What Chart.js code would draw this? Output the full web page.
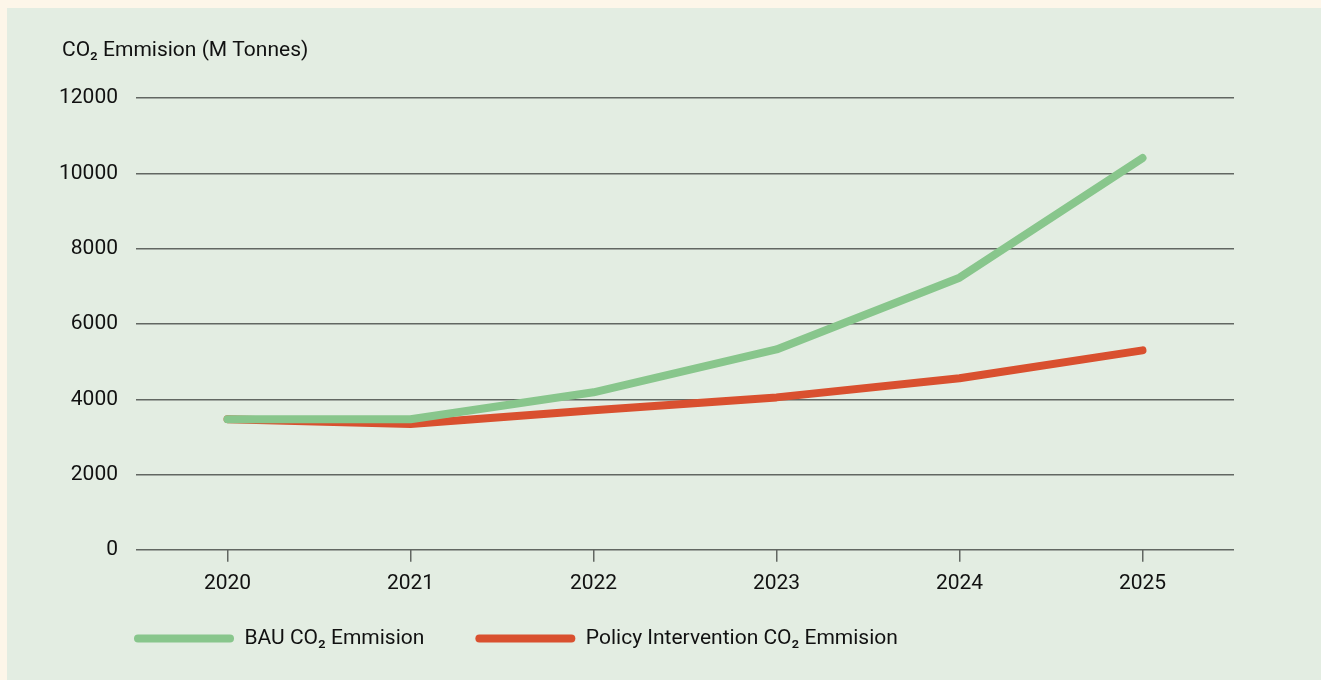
<!DOCTYPE html>
<html>
<head>
<meta charset="utf-8">
<script src="https://cdn.jsdelivr.net/npm/chart.js@4"></script>
<style>
  html, body { margin: 0; padding: 0; background: #fdf6e9; }
  #panel {
    position: absolute; left: 7px; top: 8px; width: 1314px; height: 672px;
    background: #e3ede2;
  }
</style>
</head>
<body>
<div id="panel"><canvas id="chart"></canvas></div>
<script>
// Valores
const years = ["2020", "2021", "2022", "2023", "2024", "2025"];
const bauValues = [3470, 3470, 4185, 5325, 7230, 10410];
const policyValues = [3470, 3340, 3710, 4050, 4560, 5300];
const seriesNames = ["BAU CO₂ Emmision", "Policy Intervention CO₂ Emmision"];
const yTitle = "CO₂ Emmision (M Tonnes)";

const green = "#88c68c";
const red = "#d9502f";
const gridColor = "#626762";
const textColor = "#111";
const font = { family: "Roboto, sans-serif", size: 21 };

// empurra título e legenda para a posição do original
const boxShift = {
  id: "boxShift",
  afterLayout(chart) {
    const t = chart.titleBlock;
    t.left += 21;
    t.right += 21;
    const lg = chart.legend;
    lg.left += 42;
    lg.right += 42;
    lg.top -= 28;
    lg.bottom -= 28;
  },
};

function lineDataset(label, data, color) {
  return {
    label: label,
    data: data,
    borderColor: color,
    backgroundColor: color,
    borderWidth: 8,
    borderCapStyle: "round",
    borderJoinStyle: "round",
    pointRadius: 0,
    tension: 0,
  };
}

new Chart(document.getElementById("chart"), {
  type: "line",
  data: {
    labels: years,
    datasets: [
      lineDataset(seriesNames[0], bauValues, green),
      lineDataset(seriesNames[1], policyValues, red),
    ],
  },
  plugins: [boxShift],
  options: {
    responsive: true,
    maintainAspectRatio: false,
    animation: false,
    layout: { padding: { left: 34, top: 0, right: 87, bottom: 0 } },
    plugins: {
      tooltip: { enabled: false },
      title: {
        display: true,
        text: yTitle,
        align: "start",
        color: textColor,
        font: { family: "Roboto, sans-serif", size: 21, weight: "normal" },
        padding: { top: 30, bottom: 35 },
      },
      legend: {
        position: "bottom",
        align: "start",
        maxHeight: 75,
        labels: {
          boxWidth: 100,
          boxHeight: 8,
          useBorderRadius: true,
          borderRadius: 4,
          padding: 51,
          color: textColor,
          font: font,
          generateLabels: (chart) =>
            chart.data.datasets.map((ds, i) => ({
              text: ds.label,
              fillStyle: ds.borderColor,
              strokeStyle: ds.borderColor,
              lineWidth: 0,
              borderRadius: 4,
              fontColor: textColor,
              datasetIndex: i,
            })),
        },
      },
    },
    scales: {
      x: {
        offset: true,
        border: { display: false },
        grid: {
          offset: false,
          drawOnChartArea: false,
          drawTicks: true,
          tickLength: 12,
          lineWidth: 1.5,
          color: gridColor,
        },
        ticks: { color: textColor, font: font, padding: 9 },
      },
      y: {
        min: 0,
        max: 12000,
        border: { display: false },
        grid: { drawTicks: false, lineWidth: 1.5, color: gridColor },
        ticks: {
          stepSize: 2000,
          color: textColor,
          font: font,
          padding: 18,
          callback: (value) => String(value),
        },
      },
    },
  },
});
</script>
</body>
</html>
